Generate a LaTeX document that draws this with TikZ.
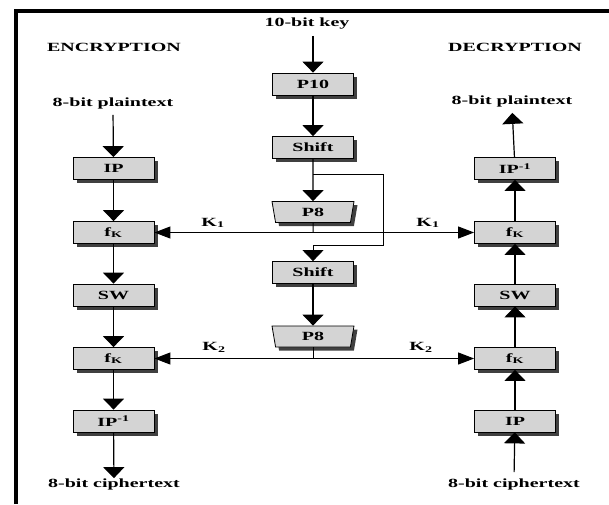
\documentclass[tikz,border=0pt]{standalone}
\usepackage{fontspec}
\setmainfont{Liberation Serif}[FakeStretch=1.6]
\usepackage{tikz}
\usetikzlibrary{arrows.meta, shapes.geometric, shadows}

\begin{document}
\begin{tikzpicture}[x=1pt, y=-1pt, font=\fontsize{12.5}{14}\selectfont\bfseries,
    box/.style={draw, line width=0.8pt, fill=black!17, minimum width=81pt, minimum height=22pt, inner sep=0pt,
        drop shadow={shadow xshift=3.5pt, shadow yshift=-3.5pt, fill=black!75, opacity=1}},
    perm/.style={box, trapezium, shape border rotate=180, trapezium angle=67, trapezium stretches body,
        minimum width=82pt, minimum height=21pt},
    lbl/.style={inner sep=0pt},
    vflow/.style={-{Triangle[length=11pt, width=21pt]}, line width=1.2pt},
    hflow/.style={-{Triangle[length=16pt, width=12pt]}, line width=1pt}]

    \useasboundingbox (0,0) rectangle (609,504);

    % =================================================================
    % 1. KHUNG VIỀN VÀ TIÊU ĐỀ
    % =================================================================
    \draw[line width=4pt, line join=miter] (16,504) -- (16,11) -- (609,11);

    \node[lbl] (key) at (307,24) {10-bit key};
    \node[lbl] (enc) at (114,47) {ENCRYPTION};
    \node[lbl] (dec) at (515,47) {DECRYPTION};

    % Văn bản vào / ra
    \node[lbl] (ptL) at (113,103) {8-bit plaintext};
    \node[lbl] (ptR) at (512,101) {8-bit plaintext};
    \node[lbl] (ctL) at (114,484) {8-bit ciphertext};
    \node[lbl] (ctR) at (514,484) {8-bit ciphertext};

    % =================================================================
    % 2. CỘT GIỮA: SINH KHÓA
    % =================================================================
    \node[box] (p10) at (313,84) {P10};
    \node[box] (sh1) at (313,147.5) {Shift};
    \node[perm] (p8a) at (313,212) {P8};
    \node[box] (sh2) at (313,272.5) {Shift};
    \node[perm] (p8b) at (313,336.5) {P8};

    % =================================================================
    % 3. CỘT TRÁI (MÃ HÓA) VÀ CỘT PHẢI (GIẢI MÃ)
    % =================================================================
    \node[box] (ipL) at (113.5,168.5) {IP};
    \node[box] (fkaL) at (113.5,232.5) {f\textsubscript{K}};
    \node[box] (swL) at (113.5,295) {SW};
    \node[box] (fkbL) at (113.5,358.5) {f\textsubscript{K}};
    \node[box] (ipiL) at (113.5,421) {IP\textsuperscript{-1}};

    \node[box] (ipiR) at (515,168.5) {IP\textsuperscript{-1}};
    \node[box] (fkaR) at (515,232.5) {f\textsubscript{K}};
    \node[box] (swR) at (515,295) {SW};
    \node[box] (fkbR) at (515,358.5) {f\textsubscript{K}};
    \node[box] (ipR) at (515,421) {IP};

    % =================================================================
    % 4. MŨI TÊN
    % =================================================================
    % Cột giữa
    \draw[vflow, shorten <=6pt] (key.south -| p10.north) -- (p10);
    \draw[vflow] (p10) -- (sh1);
    \draw[vflow] (sh1) -- (p8a);
    \coordinate (br) at (313,174);
    \coordinate (brc) at (383,245);
    \draw[vflow, line width=0.8pt] (br) -| (brc) -| (sh2);
    \draw[vflow] (sh2) -- (p8b);

    % Cột trái
    \draw[vflow, shorten <=6pt] (ptL.south) -- (ipL);
    \draw[vflow] (ipL) -- (fkaL);
    \draw[vflow] (fkaL) -- (swL);
    \draw[vflow] (swL) -- (fkbL);
    \draw[vflow] (fkbL) -- (ipiL);
    \draw[vflow] (ipiL) -- (ctL);

    % Cột phải
    \draw[vflow, shorten <=6pt] (ctR.north) -- (ipR);
    \draw[vflow] (ipR) -- (fkbR);
    \draw[vflow] (fkbR) -- (swR);
    \draw[vflow] (swR) -- (fkaR);
    \draw[vflow] (fkaR) -- (ipiR);
    \draw[vflow, shorten >=6pt] (ipiR) -- (ptR.south);

    % Khóa K1, K2
    \coordinate (ka) at (313,232.5);
    \coordinate (kb) at (313,358.5);
    \draw[line width=1pt] (p8a) -- (ka);
    \draw[hflow] (ka) -- (fkaL);
    \draw[hflow] (ka) -- (fkaR);
    \draw[line width=1pt] (p8b) -- (kb);
    \draw[hflow] (kb) -- (fkbL);
    \draw[hflow] (kb) -- (fkbR);

    \node[lbl] (k1L) at (213,223) {K\textsubscript{1}};
    \node[lbl] (k1R) at (428,223) {K\textsubscript{1}};
    \node[lbl] (k2L) at (214,347) {K\textsubscript{2}};
    \node[lbl] (k2R) at (421,347) {K\textsubscript{2}};

\end{tikzpicture}
\end{document}
